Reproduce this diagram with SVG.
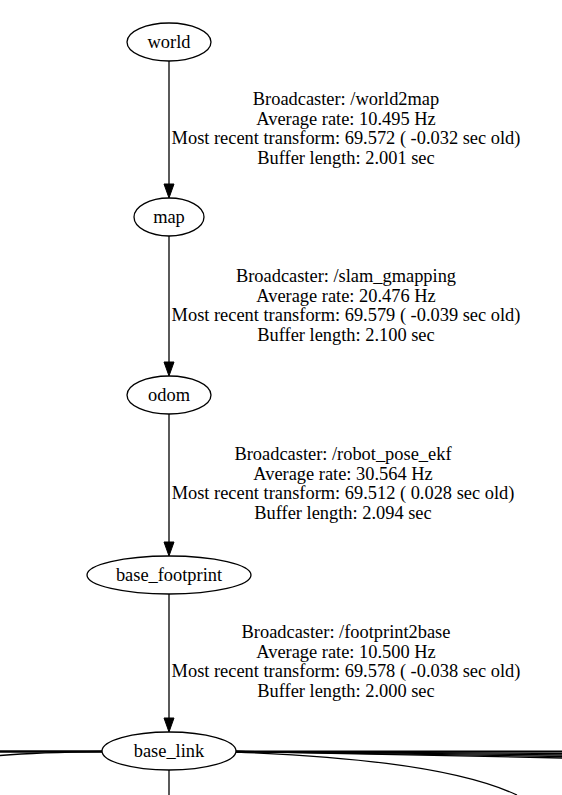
<svg xmlns="http://www.w3.org/2000/svg" width="562" height="795" viewBox="0 0 562 795">
<defs>
<style>
.n ellipse{fill:none;stroke:#000;stroke-width:1.3}
text{font-family:"Liberation Serif","Times New Roman",serif;font-size:18.4px;fill:#000;text-anchor:middle}
.e line,.e path{stroke:#000;stroke-width:1.3;fill:none}
.e polygon{fill:#000;stroke:#000;stroke-width:1}
</style>
</defs>
<rect width="562" height="795" fill="#fff"/>
<g class="e" id="edges">
<line x1="169" y1="61" x2="169" y2="184"/>
<polygon points="164,184 174,184 169,198"/>
<line x1="169" y1="236" x2="169" y2="362"/>
<polygon points="164,362 174,362 169,376"/>
<line x1="169" y1="414" x2="169" y2="542"/>
<polygon points="164,542 174,542 169,556"/>
<line x1="169" y1="594" x2="169" y2="718"/>
<polygon points="164,718 174,718 169,732"/>
<line x1="169" y1="770" x2="169" y2="795"/>
<path d="M102,751.5 L0,751.5" style="stroke-width:2.6"/>
<path d="M102,751.5 C60,752 30,753 0,755.5"/>
<path d="M236,751.5 L562,751.5" style="stroke-width:2"/>
<path d="M236,751.5 C350,752 460,752.5 562,753.5"/>
<path d="M236,751.5 C350,752 460,753.5 562,755"/>
<path d="M236,751.5 C350,752.5 460,754.5 562,756.5"/>
<path d="M236,751.5 C350,753 460,755.5 562,758"/>
<path d="M236,752 C330,756 450,764 517,795"/>
</g>
<g class="n" id="world"><ellipse cx="169" cy="42" rx="42" ry="19"/><text x="169" y="48">world</text></g>
<g class="n" id="map"><ellipse cx="169" cy="217" rx="35" ry="19"/><text x="169" y="223">map</text></g>
<g class="n" id="odom"><ellipse cx="169" cy="395" rx="42" ry="19"/><text x="169" y="401">odom</text></g>
<g class="n" id="base_footprint"><ellipse cx="169" cy="575" rx="82" ry="19"/><text x="169" y="581">base_footprint</text></g>
<g class="n" id="base_link"><ellipse cx="169" cy="751" rx="67" ry="19"/><text x="169" y="757">base_link</text></g>
<g id="labels">
<text x="346" y="105">Broadcaster: /world2map</text>
<text x="346" y="124.5">Average rate: 10.495 Hz</text>
<text x="346" y="144">Most recent transform: 69.572 ( -0.032 sec old)</text>
<text x="346" y="163.5">Buffer length: 2.001 sec</text>
<text x="346" y="282">Broadcaster: /slam_gmapping</text>
<text x="346" y="301.5">Average rate: 20.476 Hz</text>
<text x="346" y="321">Most recent transform: 69.579 ( -0.039 sec old)</text>
<text x="346" y="340.5">Buffer length: 2.100 sec</text>
<text x="343" y="460">Broadcaster: /robot_pose_ekf</text>
<text x="343" y="479.5">Average rate: 30.564 Hz</text>
<text x="343" y="499">Most recent transform: 69.512 ( 0.028 sec old)</text>
<text x="343" y="518.5">Buffer length: 2.094 sec</text>
<text x="346" y="638">Broadcaster: /footprint2base</text>
<text x="346" y="657.5">Average rate: 10.500 Hz</text>
<text x="346" y="677">Most recent transform: 69.578 ( -0.038 sec old)</text>
<text x="346" y="696.5">Buffer length: 2.000 sec</text>
</g>
</svg>
